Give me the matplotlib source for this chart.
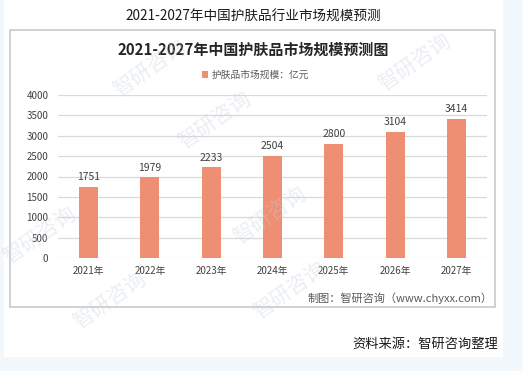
import numpy as np
import matplotlib.pyplot as plt
from matplotlib.patches import Rectangle

plt.rcParams['font.family'] = ['Noto Sans CJK SC', 'DejaVu Sans']

# data
years = ['2021年', '2022年', '2023年', '2024年', '2025年', '2026年', '2027年']
market_size = [1751, 1979, 2233, 2504, 2800, 3104, 3414]
yticks = [0, 500, 1000, 1500, 2000, 2500, 3000, 3500, 4000]

W, H = 523, 371
fig = plt.figure(figsize=(W / 100, H / 100), dpi=100, facecolor='#f2f8fc')

def fx(px):
    return px / W

def fy(py):
    return 1 - py / H

# white card and chart frame (behind the axes)
fig.patches.append(Rectangle((fx(4), fy(357)), fx(499), 357 / H, transform=fig.transFigure,
                             facecolor='white', edgecolor='none', zorder=-3))
fig.patches.append(Rectangle((fx(10), fy(307)), fx(485), 277 / H, transform=fig.transFigure,
                             facecolor='white', edgecolor='#c9c9c9', lw=1.2, zorder=-2))

# watermarks
for (x, y) in [(150, 68), (415, 62), (40, 235), (110, 300), (290, 290), (215, 120), (270, 215)]:
    fig.text(fx(x), fy(y), '智研咨询', rotation=35, fontsize=15, color='#c5cfdb',
             alpha=0.35, ha='center', va='center', zorder=5)

fig.text(fx(253), fy(17), '2021-2027年中国护肤品行业市场规模预测', fontsize=9.8,
         color='#1a1a1a', ha='center', va='center')
fig.text(fx(253), fy(50), '2021-2027年中国护肤品市场规模预测图', fontsize=10.8,
         fontweight='bold', color='#262626', ha='center', va='center')

ax = fig.add_axes([fx(58), fy(258), fx(429), (258 - 95) / H])
ax.set_facecolor('none')
x = np.arange(len(years))
bars = ax.bar(x, market_size, width=0.31, color='#ee8e72', zorder=3,
              label='护肤品市场规模：亿元')
for xi, v in zip(x, market_size):
    ax.text(xi, v + 110, str(v), ha='center', va='bottom', fontsize=7.5, color='#404040')

ax.set_xlim(-0.5, len(years) - 0.5)
ax.set_ylim(0, 4000)
ax.set_yticks(yticks)
ax.set_xticks(x)
ax.set_xticklabels(years)
ax.tick_params(axis='both', length=0, labelsize=7, colors='#404040')
ax.tick_params(axis='y', pad=7)
ax.tick_params(axis='x', pad=6)
ax.grid(axis='y', color='#d9d9d9', lw=0.9, zorder=0)
for s in ax.spines.values():
    s.set_visible(False)

ax.legend(loc='center', bbox_to_anchor=(fx(256), fy(75)), bbox_transform=fig.transFigure,
          frameon=False, fontsize=7, handlelength=0.6, handleheight=0.6,
          handletextpad=0.4, labelcolor='#595959')

fig.text(fx(493), fy(298), '制图：智研咨询（www.chyxx.com）', fontsize=8,
         color='#595959', ha='right', va='center')
fig.text(fx(498), fy(344), '资料来源：智研咨询整理', fontsize=9.5,
         color='#1a1a1a', ha='right', va='center')

fig.savefig('out.png', dpi=100, facecolor=fig.get_facecolor())
